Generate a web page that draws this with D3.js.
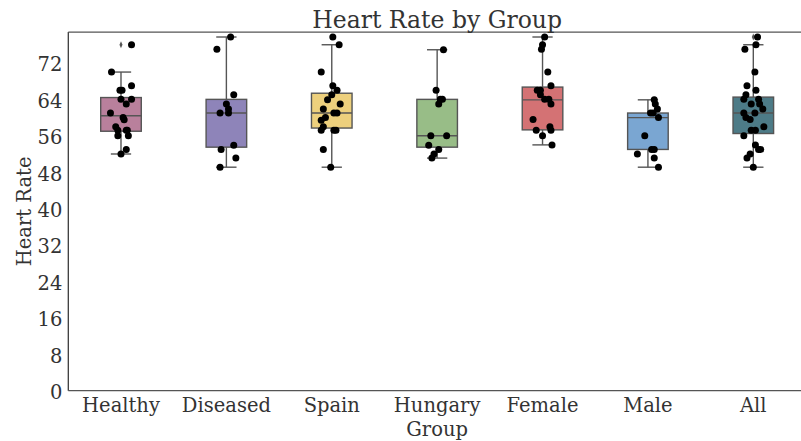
<!DOCTYPE html>
<html lang="en">
<head>
<meta charset="UTF-8" />
<title>Heart Rate by Group</title>
<script src="https://d3js.org/d3.v7.min.js"></script>
<style>
  body { margin: 0; background: #fff; }
  svg { display: block; font-family: "DejaVu Serif", serif; }
</style>
</head>
<body>
<script>
  // categories and box colours
  const groups = ["Healthy", "Diseased", "Spain", "Hungary", "Female", "Male", "All"];
  const boxColors = ["#b9809c", "#8e84b9", "#edd07d", "#98bd87", "#d47274", "#7aa6d2", "#4d7b87"];

  // box statistics
  const whiskerLow = [52.0, 49.1, 49.1, 51.1, 54.0, 49.1, 49.1];
  const q1 = [57.0, 53.5, 57.7, 53.5, 57.3, 53.0, 56.5];
  const median = [60.4, 61.0, 61.0, 56.0, 63.9, 60.0, 61.0];
  const q3 = [64.4, 64.0, 65.35, 64.0, 66.7, 61.0, 64.5];
  const whiskerHigh = [70.0, 77.7, 76.0, 74.9, 77.7, 63.9, 76.0];
  const fliers = [[76.0], [], [77.7], [], [], [], [77.7]];

  // strip points: heart rate and horizontal jitter (category units)
  const healthyValues = [76.0, 70.0, 67.0, 66.0, 66.0, 64.0, 64.0, 63.0, 61.0, 60.0, 59.5, 58.0, 57.2, 57.2, 57.2, 56.0, 56.0, 53.0, 52.0];
  const healthyJitter = [0.10, -0.09, 0.10, -0.01, 0.01, 0.00, 0.10, 0.05, -0.10, 0.02, 0.03, -0.05, -0.03, 0.05, 0.06, -0.03, 0.07, 0.05, 0.00];
  const diseasedValues = [77.7, 75.0, 65.0, 63.0, 61.9, 61.0, 61.0, 53.9, 53.0, 51.1, 49.1];
  const diseasedJitter = [0.04, -0.09, 0.07, 0.00, 0.02, -0.06, 0.02, 0.07, -0.05, 0.09, -0.06];
  const spainValues = [77.7, 76.0, 70.0, 67.0, 66.0, 65.0, 63.9, 63.0, 61.9, 61.0, 61.0, 60.0, 59.4, 58.0, 57.2, 57.2, 57.2, 53.0, 49.1];
  const spainJitter = [0.01, 0.07, -0.10, 0.01, 0.05, 0.00, -0.04, 0.08, -0.08, 0.02, 0.05, -0.06, -0.10, -0.08, -0.10, 0.02, 0.04, -0.08, -0.01];
  const hungaryValues = [74.9, 66.0, 64.0, 64.0, 63.0, 56.0, 56.0, 53.9, 53.0, 52.0, 51.1];
  const hungaryJitter = [0.06, -0.01, 0.03, 0.05, 0.015, -0.06, 0.09, -0.08, 0.015, -0.03, -0.05];
  const femaleValues = [77.7, 76.0, 75.0, 70.0, 67.0, 66.0, 66.0, 65.0, 64.0, 64.0, 63.0, 59.6, 58.0, 57.2, 57.2, 56.0, 54.0];
  const femaleJitter = [0.02, 0.00, -0.01, 0.05, 0.08, -0.05, -0.02, -0.02, 0.02, 0.06, 0.08, -0.09, 0.07, -0.06, 0.08, 0.00, 0.09];
  const maleValues = [63.9, 63.0, 61.9, 61.0, 61.0, 60.0, 56.0, 53.0, 53.0, 52.0, 51.1, 49.1];
  const maleJitter = [0.06, 0.07, 0.09, 0.025, 0.05, 0.10, -0.03, 0.035, 0.06, -0.10, 0.06, 0.10];
  const allValues = [77.7, 76.0, 75.0, 70.0, 67.0, 66.0, 65.0, 64.0, 64.0, 63.0, 63.0, 61.9, 61.0, 61.0, 60.0, 59.6, 58.0, 57.2, 57.2, 56.0, 54.0, 53.0, 53.0, 52.0, 51.1, 49.1];
  const allJitter = [0.04, 0.025, -0.08, 0.015, -0.06, 0.025, -0.07, -0.09, 0.05, -0.02, 0.06, 0.09, -0.09, 0.015, -0.07, -0.03, 0.10, -0.02, 0.02, -0.09, 0.02, 0.05, 0.07, -0.03, -0.06, 0.00];

  const yTicks = [0, 8, 16, 24, 32, 40, 48, 56, 64, 72];

  const pointSets = [
    [healthyValues, healthyJitter],
    [diseasedValues, diseasedJitter],
    [spainValues, spainJitter],
    [hungaryValues, hungaryJitter],
    [femaleValues, femaleJitter],
    [maleValues, maleJitter],
    [allValues, allJitter],
  ];

  const width = 801, height = 441;
  const margin = { top: 32, right: -5, bottom: 50.3, left: 68.3 };
  const innerW = width - margin.left - margin.right;
  const innerH = height - margin.top - margin.bottom;
  const textColor = "#333";

  const svg = d3.select("body").append("svg").attr("width", width).attr("height", height);
  const g = svg.append("g").attr("transform", `translate(${margin.left},${margin.top})`);

  const x = d3.scaleBand().domain(groups).range([0, innerW]).padding(0);
  const xLin = d3.scaleLinear().domain([-0.5, groups.length - 0.5]).range([0, innerW]);
  const y = d3.scaleLinear().domain([0, 78.8]).range([innerH, 0]);

  const boxW = x.bandwidth() * 0.385;
  const capW = boxW / 2;

  // boxes
  groups.forEach((grp, i) => {
    const cx = x(grp) + x.bandwidth() / 2;
    const bg = g.append("g");
    // whiskers
    bg.append("line").attr("x1", cx).attr("x2", cx).attr("y1", y(q3[i])).attr("y2", y(whiskerHigh[i]))
      .attr("stroke", "#555").attr("stroke-width", 1.4);
    bg.append("line").attr("x1", cx).attr("x2", cx).attr("y1", y(q1[i])).attr("y2", y(whiskerLow[i]))
      .attr("stroke", "#555").attr("stroke-width", 1.4);
    [whiskerHigh[i], whiskerLow[i]].forEach((v) => {
      bg.append("line").attr("x1", cx - capW / 2).attr("x2", cx + capW / 2).attr("y1", y(v)).attr("y2", y(v))
        .attr("stroke", "#555").attr("stroke-width", 1.4);
    });
    bg.append("rect")
      .attr("x", cx - boxW / 2).attr("width", boxW)
      .attr("y", y(q3[i])).attr("height", y(q1[i]) - y(q3[i]))
      .attr("fill", boxColors[i]).attr("stroke", "#555").attr("stroke-width", 1.4);
    bg.append("line").attr("x1", cx - boxW / 2).attr("x2", cx + boxW / 2)
      .attr("y1", y(median[i])).attr("y2", y(median[i]))
      .attr("stroke", "#555").attr("stroke-width", 1.4);
    fliers[i].forEach((v) => {
      bg.append("path")
        .attr("d", d3.symbol(d3.symbolDiamond, 14)())
        .attr("transform", `translate(${cx},${y(v)}) scale(0.75,1)`)
        .attr("fill", "#555");
    });
  });

  // strip points
  pointSets.forEach(([vals, jit], i) => {
    g.append("g").selectAll("circle")
      .data(vals.map((v, k) => ({ v, j: jit[k] })))
      .join("circle")
      .attr("cx", (d) => xLin(i + d.j))
      .attr("cy", (d) => y(d.v))
      .attr("r", 3.5)
      .attr("fill", "#000");
  });

  // spines
  g.append("line").attr("x1", 0).attr("x2", 0).attr("y1", 0).attr("y2", innerH)
    .attr("stroke", "#333").attr("stroke-width", 1.25);
  g.append("line").attr("x1", 0).attr("x2", innerW).attr("y1", innerH).attr("y2", innerH)
    .attr("stroke", "#555").attr("stroke-width", 1.25);
  g.append("line").attr("x1", 0).attr("x2", innerW).attr("y1", 0).attr("y2", 0)
    .attr("stroke", "#555").attr("stroke-width", 1.25);

  // y axis
  const yAxis = g.append("g")
    .call(d3.axisLeft(y).tickValues(yTicks).tickSize(0).tickPadding(6));
  yAxis.select(".domain").remove();
  yAxis.selectAll("text")
    .attr("fill", textColor).style("font-size", "19.5px").style("font-family", "DejaVu Serif")
    .attr("dy", "0.4em");

  // x axis
  const xAxis = g.append("g").attr("transform", `translate(0,${innerH})`)
    .call(d3.axisBottom(x).tickSize(0).tickPadding(7));
  xAxis.select(".domain").remove();
  xAxis.selectAll("text")
    .attr("fill", textColor).style("font-size", "19.5px").style("font-family", "DejaVu Serif")
    .attr("dy", "0.71em");

  // title and axis labels
  svg.append("text")
    .attr("x", margin.left + innerW / 2).attr("y", 27.5)
    .attr("text-anchor", "middle").attr("fill", textColor)
    .style("font-size", "23.5px")
    .text("Heart Rate by Group");

  svg.append("text")
    .attr("x", margin.left + innerW / 2).attr("y", 435.5)
    .attr("text-anchor", "middle").attr("fill", textColor)
    .style("font-size", "19.5px")
    .text("Group");

  svg.append("text")
    .attr("transform", `translate(31,${margin.top + innerH / 2}) rotate(-90)`)
    .attr("text-anchor", "middle").attr("fill", textColor)
    .style("font-size", "19.5px")
    .text("Heart Rate");
</script>
</body>
</html>
